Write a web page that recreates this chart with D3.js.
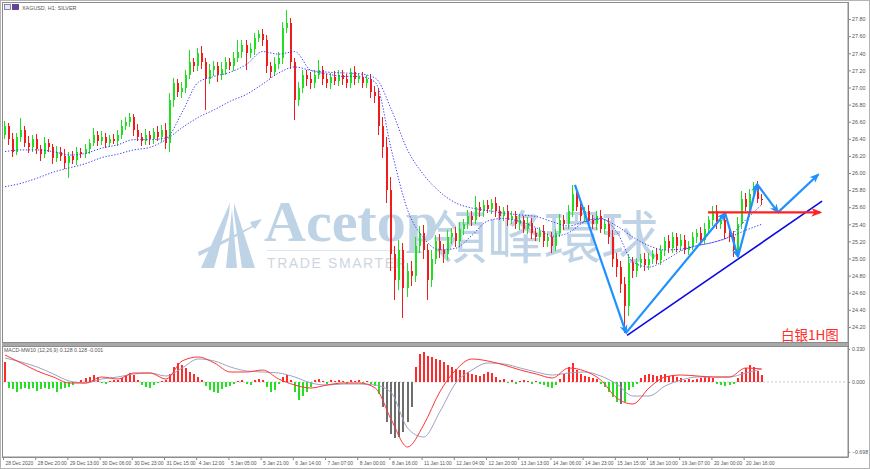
<!DOCTYPE html>
<html>
<head>
<meta charset="utf-8">
<script src="https://cdn.jsdelivr.net/npm/d3@7"></script>
<style>
  body { margin: 0; background: #fff; }
  svg { display: block; font-family: "Liberation Sans", Arial, sans-serif; }
</style>
</head>
<body>
<div id="chart"></div>
<script>
// XAGUSD H1, drawn as 2-hour candles (open = previous close)
const firstOpen = 26.45;
const closes = [
  26.55,26.40,26.25,26.42,26.50,26.35,26.30,26.40,26.28,26.22,
  26.35,26.30,26.18,26.25,26.20,26.12,26.20,26.15,26.25,26.22,
  26.28,26.35,26.45,26.38,26.42,26.35,26.40,26.38,26.45,26.55,
  26.60,26.65,26.50,26.42,26.38,26.45,26.40,26.48,26.42,26.50,
  26.35,26.85,27.05,26.95,27.00,27.15,27.30,27.25,27.40,27.30,
  27.10,27.20,27.25,27.15,27.22,27.30,27.25,27.35,27.42,27.50,
  27.40,27.45,27.58,27.62,27.55,27.25,27.18,27.28,27.35,27.70,
  27.75,27.30,26.85,27.00,27.15,27.10,27.05,27.15,27.20,27.10,
  27.05,27.12,27.08,27.15,27.10,27.05,27.18,27.10,27.12,27.05,
  27.10,26.95,26.90,26.55,26.30,25.80,25.05,24.75,25.10,24.65,
  24.85,24.80,25.15,25.30,25.10,24.75,25.00,25.20,25.10,25.05,
  25.25,25.30,25.20,25.35,25.40,25.50,25.45,25.60,25.55,25.62,
  25.58,25.65,25.55,25.50,25.55,25.45,25.50,25.40,25.45,25.35,
  25.42,25.30,25.25,25.32,25.20,25.25,25.15,25.30,25.45,25.40,
  25.55,25.75,25.60,25.50,25.55,25.45,25.40,25.50,25.35,25.40,
  25.25,25.00,24.90,24.70,24.45,24.95,24.85,24.95,25.00,24.92,
  25.00,25.05,24.98,25.10,25.20,25.12,25.25,25.15,25.22,25.10,
  25.15,25.25,25.30,25.22,25.35,25.45,25.55,25.40,25.45,25.30,
  25.25,25.10,25.40,25.70,25.60,25.75,25.85,25.70,25.68
];
const wickHi = [
  0.06,0.04,0.07,0.05,0.14,0.05,0.08,0.04,0.06,0.05,
  0.07,0.05,0.04,0.06,0.05,0.08,0.04,0.06,0.05,0.04,
  0.06,0.05,0.08,0.04,0.07,0.05,0.04,0.06,0.05,0.07,
  0.06,0.05,0.04,0.07,0.05,0.06,0.04,0.05,0.07,0.06,
  0.09,0.08,0.06,0.05,0.07,0.06,0.14,0.05,0.06,0.08,
  0.05,0.07,0.06,0.05,0.08,0.06,0.05,0.07,0.14,0.06,
  0.05,0.07,0.06,0.05,0.07,0.06,0.05,0.08,0.06,0.07,
  0.16,0.06,0.05,0.07,0.06,0.05,0.08,0.06,0.12,0.05,
  0.06,0.05,0.07,0.06,0.05,0.06,0.05,0.07,0.05,0.06,
  0.05,0.06,0.07,0.08,0.10,0.12,0.15,0.10,0.12,0.08,
  0.10,0.12,0.10,0.08,0.09,0.07,0.10,0.08,0.09,0.07,
  0.08,0.06,0.07,0.08,0.06,0.07,0.05,0.13,0.06,0.07,
  0.06,0.05,0.07,0.06,0.05,0.07,0.06,0.05,0.06,0.05,
  0.07,0.05,0.06,0.05,0.07,0.05,0.06,0.05,0.07,0.06,
  0.08,0.11,0.07,0.06,0.05,0.07,0.06,0.05,0.07,0.06,
  0.07,0.08,0.06,0.07,0.08,0.10,0.07,0.06,0.05,0.07,
  0.06,0.05,0.07,0.06,0.05,0.07,0.06,0.05,0.07,0.06,
  0.05,0.06,0.05,0.07,0.06,0.05,0.06,0.07,0.05,0.06,
  0.05,0.07,0.08,0.09,0.07,0.06,0.05,0.06,0.05
];
const wickLo = [
  0.05,0.07,0.06,0.04,0.06,0.05,0.07,0.05,0.06,0.08,
  0.05,0.06,0.07,0.05,0.06,0.07,0.18,0.05,0.06,0.05,
  0.05,0.06,0.04,0.07,0.05,0.06,0.05,0.04,0.06,0.05,
  0.05,0.06,0.07,0.05,0.06,0.05,0.07,0.06,0.05,0.06,
  0.07,0.10,0.08,0.06,0.07,0.06,0.05,0.07,0.06,0.08,
  0.36,0.06,0.07,0.08,0.06,0.07,0.05,0.06,0.05,0.07,
  0.20,0.06,0.07,0.05,0.06,0.08,0.07,0.05,0.06,0.07,
  0.06,0.08,0.23,0.07,0.06,0.08,0.07,0.06,0.05,0.07,
  0.06,0.07,0.05,0.06,0.07,0.05,0.06,0.07,0.05,0.06,
  0.06,0.07,0.08,0.10,0.12,0.15,0.20,0.24,0.12,0.35,
  0.10,0.12,0.08,0.09,0.10,0.24,0.08,0.07,0.09,0.10,
  0.07,0.08,0.06,0.07,0.08,0.06,0.07,0.05,0.06,0.07,
  0.05,0.06,0.07,0.05,0.06,0.07,0.05,0.06,0.07,0.05,
  0.06,0.07,0.05,0.06,0.07,0.06,0.08,0.06,0.05,0.07,
  0.06,0.07,0.05,0.06,0.07,0.05,0.06,0.07,0.05,0.06,
  0.08,0.10,0.12,0.10,0.32,0.12,0.08,0.07,0.06,0.07,
  0.06,0.07,0.05,0.06,0.07,0.06,0.05,0.07,0.06,0.05,
  0.06,0.05,0.07,0.06,0.05,0.06,0.07,0.05,0.06,0.07,
  0.06,0.08,0.07,0.06,0.05,0.07,0.06,0.05,0.06
];

// moving averages, one value every 4th candle
const maFast = [
  26.25,26.27,26.27,26.25,26.21,26.23,26.29,26.33,26.39,26.39,
  26.41,26.71,27.06,27.13,27.18,27.27,27.42,27.39,27.42,27.20,
  27.16,27.13,27.13,27.06,26.27,25.57,25.24,25.10,25.12,25.27,
  25.44,25.47,25.43,25.36,25.26,25.30,25.43,25.47,25.31,24.96,
  24.90,24.98,25.09,25.15,25.19,25.26,25.45,25.63
];
const maSlow = [
  25.84,25.88,25.94,26.01,26.06,26.11,26.18,26.22,26.27,26.30,
  26.39,26.53,26.65,26.74,26.84,26.92,27.04,27.17,27.24,27.20,
  27.18,27.17,27.16,27.11,26.74,26.27,25.98,25.78,25.65,25.59,
  25.56,25.53,25.51,25.49,25.43,25.38,25.43,25.46,25.38,25.25,
  25.15,25.10,25.11,25.15,25.19,25.25,25.33,25.40
];

// MACD sub window
const macdHist = [
  0.20,-0.06,-0.07,-0.10,-0.07,-0.06,-0.07,-0.06,-0.09,-0.07,
  -0.06,-0.07,-0.06,-0.10,-0.07,-0.06,-0.05,-0.03,-0.01,0.02,
  0.04,0.05,0.07,0.05,-0.01,-0.02,0.01,0.02,0.02,0.04,
  0.06,0.09,0.07,0.02,-0.03,-0.05,-0.06,-0.03,-0.01,0.01,
  0.02,0.08,0.15,0.19,0.17,0.14,0.10,0.08,0.05,0.02,
  -0.04,-0.08,-0.10,-0.11,-0.07,-0.05,-0.04,-0.02,0.01,0.02,
  -0.02,-0.03,0.02,0.03,0.02,-0.05,-0.10,-0.08,-0.02,0.05,
  0.07,0.02,-0.10,-0.18,-0.14,-0.10,-0.05,0.02,0.03,0.01,
  -0.02,0.02,0.01,0.02,0.01,-0.02,0.02,0.01,0.02,-0.01,
  0.01,-0.02,-0.04,-0.12,-0.25,-0.40,-0.52,-0.56,-0.55,-0.50,
  -0.40,-0.25,0.15,0.28,0.30,0.26,0.25,0.23,0.22,0.20,
  0.17,0.15,0.13,0.12,0.12,0.10,0.08,0.07,0.06,0.08,
  0.10,0.09,0.05,0.02,0.03,-0.01,0.02,-0.02,0.01,0.02,
  0.01,-0.02,0.01,-0.02,-0.03,-0.05,-0.06,-0.03,0.03,0.08,
  0.15,0.19,0.12,0.08,0.06,0.05,0.04,0.03,-0.02,-0.05,
  -0.10,-0.15,-0.20,-0.22,-0.20,-0.08,-0.05,-0.02,0.04,0.07,
  0.08,0.07,0.06,0.07,0.08,0.06,0.07,0.05,0.04,0.02,
  0.03,0.02,0.03,0.04,0.05,0.05,0.04,-0.02,-0.03,-0.04,
  -0.03,-0.02,0.04,0.10,0.14,0.17,0.15,0.11,0.07
];
const macdMain = [
  0.27,0.19,0.11,0.05,-0.01,-0.01,0.05,0.03,0.09,0.09,
  0.03,0.21,0.25,0.19,0.10,0.10,0.12,0.03,-0.03,-0.06,
  -0.03,-0.01,-0.01,-0.06,-0.38,-0.65,-0.43,-0.10,0.12,0.23,
  0.21,0.17,0.12,0.08,0.04,0.14,0.11,0.02,-0.16,-0.22,
  -0.06,0.05,0.07,0.06,0.05,0.05,0.14,0.13
];
const macdSignal = [
  0.24,0.20,0.15,0.08,0.01,-0.01,0.03,0.05,0.08,0.09,
  0.06,0.14,0.23,0.21,0.15,0.11,0.10,0.09,0.05,-0.01,
  -0.03,-0.02,-0.02,-0.03,-0.11,-0.46,-0.55,-0.30,-0.01,0.12,
  0.19,0.18,0.14,0.10,0.07,0.09,0.10,0.06,-0.02,-0.14,
  -0.14,-0.04,0.02,0.05,0.05,0.05,0.09,0.13
];

const timeLabels = [
  "28 Dec 2020","28 Dec 20:00","29 Dec 13:00","30 Dec 06:00","30 Dec 23:00",
  "31 Dec 15:00","4 Jan 12:00","5 Jan 05:00","5 Jan 21:00","6 Jan 14:00",
  "7 Jan 07:00","8 Jan 00:00","8 Jan 16:00","11 Jan 11:00","12 Jan 04:00",
  "12 Jan 20:00","13 Jan 13:00","14 Jan 06:00","14 Jan 23:00","15 Jan 15:00",
  "18 Jan 10:00","19 Jan 07:00","20 Jan 00:00","20 Jan 16:00"
];
const priceTicks = [24.2,24.4,24.6,24.8,25.0,25.2,25.4,25.6,25.8,26.0,26.2,26.4,26.6,26.8,27.0,27.2,27.4,27.6,27.8];
const macdTicks = [0.33, 0, -0.698];

// drawn objects: [hour bar, price]
const zigzag = [[284.2,25.86],[309.6,24.13],[358.8,25.53],[365.2,25.02],[374.7,25.87],[385.1,25.54],[405.0,25.98]];
const trendLine = [[310.1,24.10],[407.0,25.67]];
const levelArrow = [[350.3,25.54],[406.0,25.54]];

const W = 870, H = 469;
const svg = d3.select("#chart").append("svg").attr("width", W).attr("height", H);

// hour bars -> pixels, candle i sits on bars 2i..2i+1
const x = d3.scaleLinear().domain([0, 368]).range([3, 743.6]);
const y = d3.scaleLinear().domain([24.2, 27.8]).range([326.9, 19.1]);
const ym = d3.scaleLinear().domain([-0.698, 0.33]).range([451.8, 349]);

const candles = closes.map((c, i) => {
  const o = i === 0 ? firstOpen : closes[i - 1];
  return { bar: 2 * i + 1, o: o, c: c, h: Math.max(o, c) + wickHi[i], l: Math.min(o, c) - wickLo[i] };
});

const defs = svg.append("defs");
defs.append("clipPath").attr("id", "mainClip").append("rect")
  .attr("x", 3).attr("y", 3).attr("width", 845).attr("height", 339);
defs.append("clipPath").attr("id", "subClip").append("rect")
  .attr("x", 3).attr("y", 347).attr("width", 845).attr("height", 110);

function marker(id, color, size) {
  defs.append("marker").attr("id", id)
    .attr("viewBox", "0 0 10 10").attr("refX", 8).attr("refY", 5)
    .attr("markerUnits", "userSpaceOnUse")
    .attr("markerWidth", size).attr("markerHeight", size)
    .attr("orient", "auto")
    .append("path").attr("d", "M0,1 L10,5 L0,9 L3,5 Z").attr("fill", color);
}
marker("headBlue", "#1e90ff", 10);
marker("headRed", "#ff2020", 11);

// window frame
svg.append("rect").attr("x", 0.5).attr("y", 0.5).attr("width", W - 1).attr("height", H - 1)
  .attr("fill", "none").attr("stroke", "#b4b4b4");
svg.append("rect").attr("x", 2.5).attr("y", 2.5).attr("width", 845.5).attr("height", 340)
  .attr("fill", "none").attr("stroke", "#8c8c8c");
svg.append("rect").attr("x", 2).attr("y", 343).attr("width", 846.5).attr("height", 3).attr("fill", "#a8a8a8");
svg.append("rect").attr("x", 2.5).attr("y", 346.5).attr("width", 845.5).attr("height", 110.5)
  .attr("fill", "none").attr("stroke", "#8c8c8c");

// watermark
const wm = svg.append("g").attr("fill", "#bfd3e6");
wm.append("path")
  .attr("d", "M230,203 L201,268 L214,268 L229,214 Z M232,209 L226,268 L237,268 Z M234,203 L255,268 L242,268 L234,214 Z");
wm.append("path")
  .attr("d", "M198,252 Q225,240 252,226 L250,222 L262,219 L255,229 L253,227 Q226,243 199,256 Z");
wm.append("text").attr("x", 264).attr("y", 241).attr("font-weight", "bold")
  .attr("font-family", "'Liberation Serif','DejaVu Serif',serif").attr("font-size", 58).text("Acetop");
wm.append("text").attr("x", 430).attr("y", 258)
  .attr("font-family", "'Noto Sans CJK TC','Noto Sans CJK SC',sans-serif").attr("font-size", 57).text("領峰環球");
wm.append("line").attr("x1", 267).attr("x2", 402).attr("y1", 250.5).attr("y2", 250.5)
  .attr("stroke", "#dde7ef").attr("stroke-width", 1);
wm.append("text").attr("x", 267).attr("y", 268).attr("fill", "#cdd6df")
  .attr("font-size", 14).attr("letter-spacing", 1.6).text("TRADE SMARTER");

// candles
const up = "#1ee01e", down = "#f01c1c";
const cg = svg.append("g").attr("clip-path", "url(#mainClip)").attr("shape-rendering", "crispEdges");
cg.selectAll("line.wick").data(candles).enter().append("line")
  .attr("class", "wick")
  .attr("x1", d => Math.round(x(d.bar)) - 0.5).attr("x2", d => Math.round(x(d.bar)) - 0.5)
  .attr("y1", d => y(d.h)).attr("y2", d => y(d.l))
  .attr("stroke", d => d.c >= d.o ? up : down).attr("stroke-width", 1);
cg.selectAll("rect.body").data(candles).enter().append("rect")
  .attr("class", "body")
  .attr("x", d => Math.round(x(d.bar)) - 1).attr("width", 2)
  .attr("y", d => y(Math.max(d.o, d.c)))
  .attr("height", d => Math.max(1, Math.abs(y(d.o) - y(d.c))))
  .attr("fill", d => d.c >= d.o ? up : down);

// moving averages
const maLine = d3.line().x((d, i) => x(8 * i + 1)).y(d => y(d)).curve(d3.curveMonotoneX);
[maFast, maSlow].forEach(ma => {
  svg.append("path").datum(ma).attr("clip-path", "url(#mainClip)")
    .attr("d", maLine).attr("fill", "none")
    .attr("stroke", "#3c3cff").attr("stroke-width", 1).attr("stroke-dasharray", "1.3,1.7");
});

// drawn objects
const objLine = d3.line().x(d => x(d[0])).y(d => y(d[1]));
svg.append("path").datum(trendLine).attr("d", objLine)
  .attr("stroke", "#0a0ae6").attr("stroke-width", 1.6).attr("fill", "none");
for (let k = 0; k < zigzag.length - 1; k++) {
  svg.append("path").datum([zigzag[k], zigzag[k + 1]]).attr("d", objLine)
    .attr("stroke", "#1e90ff").attr("stroke-width", 2.2).attr("fill", "none")
    .attr("marker-end", "url(#headBlue)");
}
svg.append("path").datum(levelArrow).attr("d", objLine)
  .attr("stroke", "#ff2020").attr("stroke-width", 2.4).attr("fill", "none")
  .attr("marker-end", "url(#headRed)");

svg.append("text").attr("x", 781).attr("y", 339.5)
  .attr("font-family", "'Noto Sans CJK SC',sans-serif").attr("font-size", 13.5)
  .attr("fill", "#ff2a2a").text("白银1H图");

// title + icon
svg.append("rect").attr("x", 4.5).attr("y", 4.5).attr("width", 6).attr("height", 5)
  .attr("fill", "#e8e8f4").attr("stroke", "#6a6aa8").attr("stroke-width", 0.8);
svg.append("rect").attr("x", 12.5).attr("y", 4.5).attr("width", 6).attr("height", 5)
  .attr("fill", "#3050d8").attr("stroke", "#a02020").attr("stroke-width", 0.8);
svg.append("text").attr("x", 22).attr("y", 9.5).attr("font-size", 5.4).attr("fill", "#555")
  .text("XAGUSD, H1:  SILVER");

// price axis
const pAxis = svg.append("g").attr("transform", "translate(848,0)")
  .call(d3.axisRight(y).tickValues(priceTicks).tickFormat(d3.format(".2f")).tickSize(3).tickPadding(1));
pAxis.select(".domain").remove();
pAxis.selectAll("line").attr("stroke", "#888");
pAxis.selectAll("text").attr("font-size", 5.4).attr("fill", "#555").attr("font-family", "'Liberation Sans',Arial,sans-serif");
svg.append("line").attr("x1", 848.5).attr("x2", 848.5).attr("y1", 2).attr("y2", 457)
  .attr("stroke", "#8c8c8c");

// MACD
const sg = svg.append("g").attr("clip-path", "url(#subClip)");
sg.append("line").attr("x1", 3).attr("x2", 848).attr("y1", ym(0)).attr("y2", ym(0))
  .attr("stroke", "#c8c8c8").attr("stroke-dasharray", "2,2");
sg.selectAll("rect.hist").data(macdHist).enter().append("rect")
  .attr("class", "hist").attr("shape-rendering", "crispEdges")
  .attr("x", (d, i) => Math.round(x(2 * i + 1)) - 1).attr("width", 1.6)
  .attr("y", d => ym(Math.max(0, d)))
  .attr("height", d => Math.abs(ym(d) - ym(0)))
  .attr("fill", d => d >= 0 ? "#ff2a2a" : (d < -0.2 ? "#6e6e6e" : "#22e022"));
const macdLine = d3.line().x((d, i) => x(8 * i + 1)).y(d => ym(d)).curve(d3.curveMonotoneX);
sg.append("path").datum(macdSignal).attr("d", macdLine).attr("fill", "none")
  .attr("stroke", "#9aa3c4").attr("stroke-width", 1);
sg.append("path").datum(macdMain).attr("d", macdLine).attr("fill", "none")
  .attr("stroke", "#ff3535").attr("stroke-width", 1);
svg.append("text").attr("x", 4).attr("y", 352).attr("font-size", 5.2).attr("fill", "#555")
  .text("MACD-MW10 (12,26,9) 0.128 0.128 -0.001");

const mAxis = svg.append("g").attr("transform", "translate(848,0)")
  .call(d3.axisRight(ym).tickValues(macdTicks).tickFormat(d3.format(".3f")).tickSize(2).tickPadding(2));
mAxis.select(".domain").remove();
mAxis.selectAll("line").attr("stroke", "#888");
mAxis.selectAll("text").attr("font-size", 5.2).attr("fill", "#555").attr("font-family", "'Liberation Sans',Arial,sans-serif");

// time axis
const tAxis = svg.append("g").attr("transform", "translate(0,457)")
  .call(d3.axisBottom(x).tickValues(timeLabels.map((t, k) => 16 * k))
    .tickFormat((d, k) => timeLabels[k]).tickSize(3).tickPadding(1));
tAxis.select(".domain").attr("stroke", "#8c8c8c").attr("d", "M2,0.5H848.5");
tAxis.selectAll("line").attr("stroke", "#888");
tAxis.selectAll("text").attr("text-anchor", "start").attr("x", 2).attr("dy", "0.9em")
  .attr("font-size", 4.9).attr("fill", "#555").attr("font-family", "'Liberation Sans',Arial,sans-serif");
</script>
</body>
</html>
